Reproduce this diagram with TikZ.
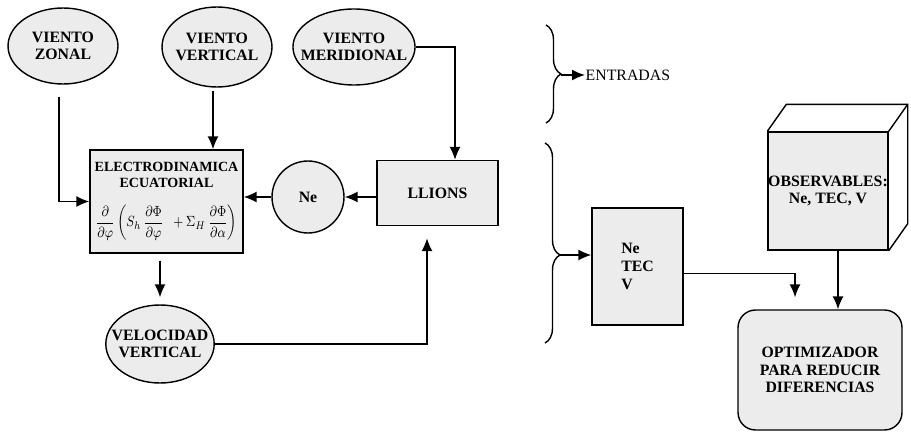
\documentclass[tikz,border=0pt]{standalone}
\usepackage{amsmath}
\usepackage{fontspec}
\setmainfont{Liberation Serif}
\usetikzlibrary{positioning,arrows.meta,shapes.geometric,decorations.pathreplacing}

\begin{document}
\begin{tikzpicture}
	[x=0.02cm, y=-0.02cm, every node/.style={draw, line width=0.8pt, fill=gray!15, align=center, inner sep=1pt, font=\bfseries\fontsize{9}{10}\selectfont},
	elipse/.style={ellipse, minimum width=2.2cm, minimum height=1.52cm, inner xsep=-0.2cm},
	caja/.style={rectangle},
	arr/.style={-{Latex[length=2.6mm,width=2.2mm]}, line width=0.8pt}]
	\useasboundingbox (0,0) rectangle (911,432);
	\node (zonal) [elipse] at (63,46) {VIENTO\\ZONAL};\node (vert) [elipse, minimum height=1.6cm] at (217,47) {VIENTO\\VERTICAL};\node (merid) [elipse, minimum width=2.1cm] at (354,47) {VIENTO\\MERIDIONAL};
	\node (electro) [caja, minimum width=3.06cm, minimum height=2.06cm, inner xsep=2pt, inner ysep=0pt, font=\bfseries\fontsize{8}{9}\selectfont] at (166.5,201.5) {ELECTRODINAMICA\\ECUATORIAL\\[9pt] \scalebox{0.85}[1.05]{$\displaystyle\frac{\partial}{\partial\varphi}\left(S_h\,\frac{\partial\Phi}{\partial\varphi}\;\;+\Sigma_H\,\frac{\partial\Phi}{\partial\alpha}\right)$}};
	\node (ne) [circle, minimum size=1.44cm] at (308,197) {Ne};\node (llions) [caja, minimum width=2.42cm, minimum height=1.3cm] at (437.5,193) {LLIONS};\node (velo) [elipse, minimum width=2.12cm, minimum height=1.56cm] at (160,344) {VELOCIDAD\\VERTICAL};
	\node (netecv) [caja, minimum width=1.82cm, minimum height=2.34cm, align=left] at (637.5,266.5) {Ne\\TEC\\V};
	\node (obs) [caja, minimum width=2.4cm, minimum height=2.36cm, inner xsep=0pt] at (828,191) {OBSERVABLES:\\Ne, TEC, V};
	\node (optim) [caja, rounded corners=0.35cm, minimum width=3.28cm, minimum height=2.4cm] at (820,370) {OPTIMIZADOR\\PARA REDUCIR\\DIFERENCIAS};
	\node (entradas) [draw=none, fill=none, anchor=west, inner sep=0pt, font=\fontsize{9}{10}\selectfont] at (585,75) {ENTRADAS};
	
	% cubo
	\draw[line width=0.8pt] (obs.north west) -- ++(19,-27) -| ([shift={(19,-27)}]obs.south east) -- (obs.south east);
	\draw[line width=0.8pt] (obs.north east) -- ++(19,-27);
	
	% llaves
	\draw[line width=0.8pt, decorate, decoration={brace, amplitude=0.3cm}] (546,25) -- (546,123);
	\draw[line width=0.8pt, decorate, decoration={brace, amplitude=0.3cm, aspect=0.56}] (545,143) -- (545,343);
	\coordinate (tip1) at (561,75);
	\coordinate (tip2) at (560,255);
	
	\draw[arr, shorten <=0.25cm] ([xshift=-0.08cm]zonal.south) |- (electro.west);
	\draw[arr, shorten <=0.06cm] ([xshift=-0.08cm]vert.south) -- ([xshift=-0.08cm]vert.south |- electro.north);
	\draw[arr] (ne.west) -- (ne.west -| electro.east);
	\draw[arr] (ne.east -| llions.west) -- (ne.east);
	\draw[arr] (merid.east) -| ([xshift=0.35cm]llions.north);
	\draw[arr, shorten <=0.14cm, shorten >=0.14cm] (velo.north |- electro.south) -- (velo.north);
	\draw[arr, shorten >=0.24cm] (velo.east) -| ([xshift=-0.21cm]llions.south);
	\draw[arr] (tip1) -- (entradas.west);
	\draw[arr] (tip2) -- (tip2 -| netecv.west);
	\draw[arr, shorten >=0.24cm] ([yshift=-0.14cm]netecv.east) -| ([xshift=-0.5cm]optim.north);
	\draw[arr] ([xshift=0.2cm]obs.south) -- ([xshift=0.2cm]obs.south |- optim.north);
\end{tikzpicture}
\end{document}
